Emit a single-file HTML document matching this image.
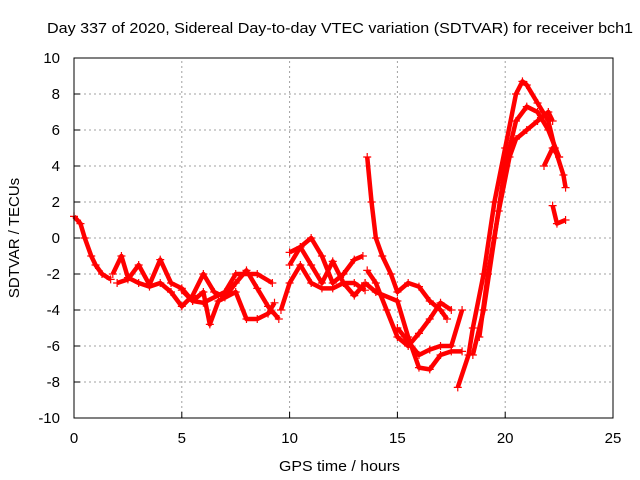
<!DOCTYPE html>
<html><head><meta charset="utf-8"><style>
body{margin:0;background:#fff;}
svg{display:block;font-family:"Liberation Sans",sans-serif;}
</style></head><body>
<svg id="chart" width="640" height="480">
<text x="47" y="33" font-size="15" textLength="586" lengthAdjust="spacingAndGlyphs">Day 337 of 2020, Sidereal Day-to-day VTEC variation (SDTVAR) for receiver bch1</text>
<text x="279" y="471" font-size="15" textLength="121" lengthAdjust="spacingAndGlyphs">GPS time / hours</text>
<text x="19" y="238" font-size="15" text-anchor="middle" transform="rotate(-90 19 238)">SDTVAR / TECUs</text>
<g id="grid"></g>
<g id="ticks"></g>
<g id="series"></g>
<rect x="74" y="58" width="539" height="360" fill="none" stroke="#000" stroke-width="1"/>
</svg>
<script>
const xTicks=[0,5,10,15,20,25];
const yTicks=[-10,-8,-6,-4,-2,0,2,4,6,8,10];
const trackA=[[0,1.2],[0.3,0.8],[0.5,0],[0.8,-1],[1,-1.5],[1.3,-2],[1.7,-2.3]];
const trackB=[[1.8,-2],[2.2,-1],[2.5,-2.2],[3,-2.5],[3.5,-2.7],[4,-2.5],[4.5,-3],[5,-3.8],[5.5,-3.2],[6,-2],[6.5,-3],[7,-3.3],[7.5,-2.5],[8,-1.8],[8.5,-2.8],[9,-3.8],[9.5,-4.5]];
const trackC=[[2,-2.5],[2.5,-2.3],[3,-1.5],[3.5,-2.6],[4,-1.2],[4.5,-2.5],[5,-2.8],[5.5,-3.5],[6,-3],[6.3,-4.8],[6.7,-3.5],[7.5,-3],[8,-4.5],[8.5,-4.5],[9,-4.2],[9.3,-3.6]];
const trackD=[[5,-2.9],[5.5,-3.5],[6,-3.6],[7,-3],[7.5,-2],[8.5,-2],[9.2,-2.5]];
const trackE=[[9.6,-4],[10,-2.5],[10.5,-1.5],[11,-2.5],[11.5,-2.8],[12,-2.8],[12.5,-2.5],[13,-2.5],[13.5,-2.9]];
const trackF=[[10,-1.5],[10.5,-0.5],[11,0],[11.5,-1],[12,-2.5],[12.5,-2],[13,-1.2],[13.4,-1]];
const trackG=[[10,-0.8],[10.5,-0.5],[11,-1.5],[11.5,-2.5],[12,-1.3],[12.5,-2.5],[13,-3.2],[13.5,-2.5]];
const trackH=[[13.6,4.5],[13.8,2],[14,0],[14.3,-1],[14.7,-2],[15,-3],[15.5,-2.5],[16,-2.7],[16.5,-3.5],[17,-4],[17.3,-4.5]];
const trackI=[[13.6,-1.8],[14,-2.5],[14.5,-4],[15,-5.5],[15.5,-6],[16,-5.3],[16.5,-4.5],[17,-3.6],[17.5,-4]];
const trackJ=[[13.5,-2.5],[14,-3],[15,-3.5],[15.5,-5.5],[16,-7.2],[16.5,-7.3],[17,-6.5],[17.5,-6.3],[18,-6.3]];
const trackK=[[15,-5],[16,-6.5],[16.5,-6.2],[17,-6],[17.5,-6],[18,-4]];
const trackL=[[17.8,-8.3],[18.3,-6.5],[18.5,-5],[19,-2],[19.5,2],[20,5],[20.5,8],[20.8,8.7],[21,8.5],[21.5,7.5],[22,6.5],[22.3,5],[22.7,3.5],[22.8,2.8]];
const trackM=[[18.5,-6.5],[19,-4],[19.5,0],[20,4],[20.5,6.5],[21,7.3],[21.5,7],[22,6],[22.5,4.5]];
const trackN=[[18.8,-5.5],[19.2,-2],[19.7,1.5],[20.2,4.5],[20.5,5.5],[21,6],[21.5,6.5],[22,7],[22.2,6.5]];
const trackO=[[21.8,4],[22.2,5],[22.5,4.5]];
const trackP=[[22.2,1.8],[22.4,0.8],[22.8,1]];
const tracks=[trackA,trackB,trackC,trackD,trackE,trackF,trackG,trackH,trackI,trackJ,trackK,trackL,trackM,trackN,trackO,trackP];

const NS="http://www.w3.org/2000/svg";
const X0=74,X1=613,Y0=418,Y1=58,xmin=0,xmax=25,ymin=-10,ymax=10;
function sx(v){return X0+(v-xmin)/(xmax-xmin)*(X1-X0);}
function sy(v){return Y0-(v-ymin)/(ymax-ymin)*(Y0-Y1);}
function mk(tag,attrs,parent){const e=document.createElementNS(NS,tag);for(const k in attrs)e.setAttribute(k,attrs[k]);parent.appendChild(e);return e;}
const grid=document.getElementById('grid'),ticks=document.getElementById('ticks'),ser=document.getElementById('series');
xTicks.forEach(t=>{
  const x=sx(t);
  if(t>xmin&&t<xmax){const g=mk('line',{x1:x,x2:x,y1:Y0,y2:Y1,stroke:'#a0a0a0','stroke-dasharray':'2,3'},grid);
  
  }
  const l=mk('line',{x1:x,x2:x,y1:Y0,y2:Y0-6,stroke:'#000'},ticks);
  
  
  const tx=mk('text',{x:x,y:Y0+25,'font-size':15,'text-anchor':'middle'},ticks);
  tx.textContent=t;
  
  
});
yTicks.forEach(t=>{
  const y=sy(t);
  if(t>ymin&&t<ymax){const g=mk('line',{x1:X0,x2:X1,y1:y,y2:y,stroke:'#a0a0a0','stroke-dasharray':'2,3'},grid);
  
  }
  const l=mk('line',{x1:X0,x2:X0+6,y1:y,y2:y,stroke:'#000'},ticks);
  
  
  const tx=mk('text',{x:X0-14,y:y+5,'font-size':15,'text-anchor':'end'},ticks);
  tx.textContent=t;
  
  
});
tracks.forEach((tr,i)=>{
  const pl=mk('polyline',{points:tr.map(p=>sx(p[0])+','+sy(p[1])).join(' '),fill:'none',stroke:'#f00','stroke-width':4.5,'stroke-linejoin':'round'},ser);
  
  
  tr.forEach(p=>{
    const x=sx(p[0]),y=sy(p[1]);
    const m=mk('path',{d:`M${x-4},${y}h8M${x},${y-4}v8`,stroke:'#f00','stroke-width':1.2},ser);
    
    
  });
});
</script>
</body></html>
